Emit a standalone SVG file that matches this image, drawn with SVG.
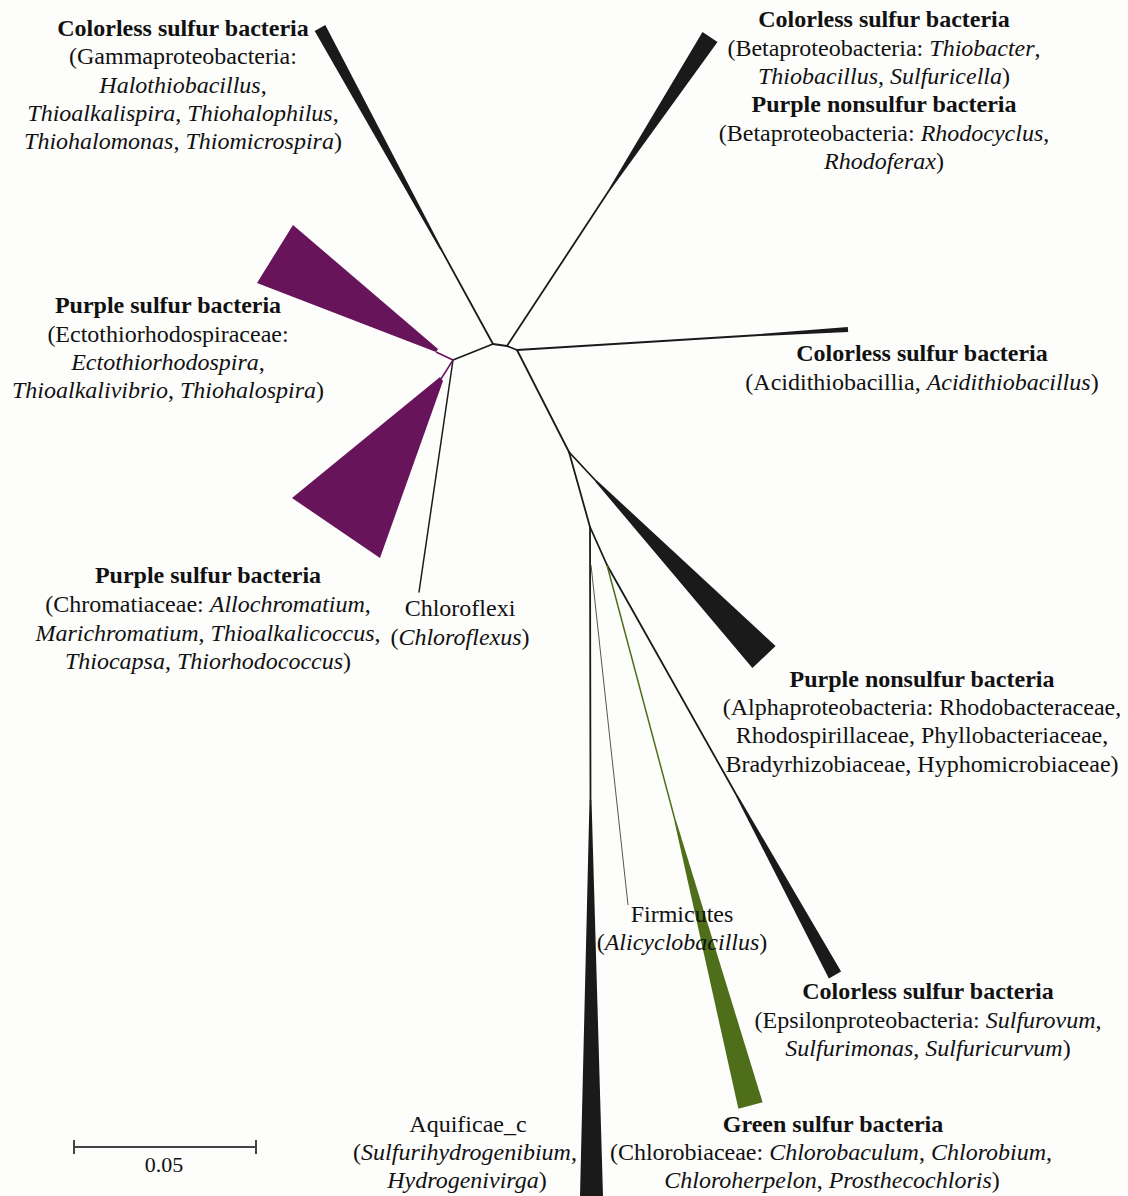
<svg xmlns="http://www.w3.org/2000/svg" width="1128" height="1196" viewBox="0 0 1128 1196">
<style>
.t{font-family:"Liberation Serif","Times New Roman",serif;font-size:24px;fill:#111;text-anchor:middle}
.b{font-weight:bold}
.i{font-style:italic}
.br{stroke:#1a1a1a;stroke-width:1.8;fill:none;stroke-linecap:round}
.thin{stroke:#555;stroke-width:1;fill:none}
.pl{stroke:#67145b;stroke-width:1.5;fill:none}
.gl{stroke:#4e6e1a;stroke-width:1.5;fill:none}
.wk{fill:#1a1a1a}
.wp{fill:#67145b}
.wg{fill:#4e6e1a}
</style>
<rect width="1128" height="1196" fill="#fdfdfc"/>
<g id="connectors">
<line class="br" x1="453" y1="360" x2="493" y2="344"/>
<line class="br" x1="493" y1="344" x2="507" y2="346"/>
<line class="br" x1="507" y1="346" x2="517" y2="350"/>
<line class="br" x1="517" y1="350" x2="569" y2="452"/>
<line class="br" x1="569" y1="452" x2="590" y2="527"/>
<line class="br" x1="590" y1="527" x2="607" y2="565"/>
<line class="br" x1="493" y1="344" x2="441" y2="249"/>
<line class="br" x1="507" y1="346" x2="610" y2="189"/>
<line class="br" x1="517" y1="350" x2="760" y2="335"/>
<line class="br" x1="569" y1="452" x2="596" y2="481"/>
<line class="br" x1="607" y1="565" x2="737" y2="796"/>
<line class="gl" x1="607" y1="565" x2="675" y2="820"/>
<line class="br" x1="590" y1="527" x2="590.5" y2="800"/>
<line class="thin" x1="591" y1="565" x2="628" y2="905"/>
<line class="br" x1="453" y1="360" x2="419" y2="592" style="stroke-width:1.5"/>
<line class="pl" x1="453" y1="360" x2="436" y2="352"/>
<line class="pl" x1="453" y1="360" x2="441" y2="379"/>
</g>
<g id="gamma">
<polygon class="wk" points="441.9,248.7 440.1,249.7 314.7,30.9 325.3,25.1"/>
<text class="t b" x="183" y="36">Colorless sulfur bacteria</text>
<text class="t" x="183" y="64">(Gammaproteobacteria:</text>
<text class="t" x="183" y="93"><tspan class="i">Halothiobacillus</tspan>,</text>
<text class="t" x="183" y="121"><tspan class="i">Thioalkalispira</tspan>, <tspan class="i">Thiohalophilus</tspan>,</text>
<text class="t" x="183" y="149"><tspan class="i">Thiohalomonas</tspan>, <tspan class="i">Thiomicrospira</tspan>)</text>
</g>
<g id="beta">
<polygon class="wk" points="610.8,189.5 609.2,188.5 702.5,32.1 717.5,41.9"/>
<text class="t b" x="884" y="27">Colorless sulfur bacteria</text>
<text class="t" x="884" y="56">(Betaproteobacteria: <tspan class="i">Thiobacter</tspan>,</text>
<text class="t" x="884" y="84"><tspan class="i">Thiobacillus</tspan>, <tspan class="i">Sulfuricella</tspan>)</text>
<text class="t b" x="884" y="112">Purple nonsulfur bacteria</text>
<text class="t" x="884" y="141">(Betaproteobacteria: <tspan class="i">Rhodocyclus</tspan>,</text>
<text class="t" x="884" y="169"><tspan class="i">Rhodoferax</tspan>)</text>
</g>
<g id="ectothiorhodospiraceae">
<polygon class="wp" points="293,225 257,283 436,352 438,349"/>
<text class="t b" x="168" y="313">Purple sulfur bacteria</text>
<text class="t" x="168" y="342">(Ectothiorhodospiraceae:</text>
<text class="t" x="168" y="370"><tspan class="i">Ectothiorhodospira</tspan>,</text>
<text class="t" x="168" y="398"><tspan class="i">Thioalkalivibrio</tspan>, <tspan class="i">Thiohalospira</tspan>)</text>
</g>
<g id="acidithiobacillia">
<polygon class="wk" points="760.06,336 759.94,334 847.8,327 848.2,332"/>
<text class="t b" x="922" y="361">Colorless sulfur bacteria</text>
<text class="t" x="922" y="390">(Acidithiobacillia, <tspan class="i">Acidithiobacillus</tspan>)</text>
</g>
<g id="chromatiaceae">
<polygon class="wp" points="292,498 380,558 443,381 440,377"/>
<text class="t b" x="208" y="583">Purple sulfur bacteria</text>
<text class="t" x="208" y="612">(Chromatiaceae: <tspan class="i">Allochromatium</tspan>,</text>
<text class="t" x="208" y="641"><tspan class="i">Marichromatium</tspan>, <tspan class="i">Thioalkalicoccus</tspan>,</text>
<text class="t" x="208" y="669"><tspan class="i">Thiocapsa</tspan>, <tspan class="i">Thiorhodococcus</tspan>)</text>
</g>
<g id="chloroflexi">
<text class="t" x="460" y="616">Chloroflexi</text>
<text class="t" x="460" y="645">(<tspan class="i">Chloroflexus</tspan>)</text>
</g>
<g id="alphaproteobacteria">
<polygon class="wk" points="596.7,480.3 595.3,481.7 752.4,668 775.6,646"/>
<text class="t b" x="922" y="687">Purple nonsulfur bacteria</text>
<text class="t" x="922" y="715">(Alphaproteobacteria: Rhodobacteraceae,</text>
<text class="t" x="922" y="743">Rhodospirillaceae, Phyllobacteriaceae,</text>
<text class="t" x="922" y="772">Bradyrhizobiaceae, Hyphomicrobiaceae)</text>
</g>
<g id="epsilonproteobacteria">
<polygon class="wk" points="737.9,795.5 736.1,796.5 828.9,978.4 841.1,971.6"/>
<text class="t b" x="928" y="999">Colorless sulfur bacteria</text>
<text class="t" x="928" y="1028">(Epsilonproteobacteria: <tspan class="i">Sulfurovum</tspan>,</text>
<text class="t" x="928" y="1056"><tspan class="i">Sulfurimonas</tspan>, <tspan class="i">Sulfuricurvum</tspan>)</text>
</g>
<g id="chlorobiaceae">
<polygon class="wg" points="675.8,819.8 674.2,820.2 738.4,1108.7 762.6,1102.3"/>
<text class="t b" x="833" y="1132">Green sulfur bacteria</text>
<text class="t" x="831" y="1160">(Chlorobiaceae: <tspan class="i">Chlorobaculum</tspan>, <tspan class="i">Chlorobium</tspan>,</text>
<text class="t" x="832" y="1188"><tspan class="i">Chloroherpelon</tspan>, <tspan class="i">Prosthecochloris</tspan>)</text>
</g>
<g id="aquificae">
<polygon class="wk" points="589.5,800 591.5,800 603,1196 580,1196"/>
<text class="t" x="468" y="1132">Aquificae_c</text>
<text class="t" x="465" y="1160">(<tspan class="i">Sulfurihydrogenibium</tspan>,</text>
<text class="t" x="467" y="1188"><tspan class="i">Hydrogenivirga</tspan>)</text>
</g>
<g id="firmicutes">
<text class="t" x="682" y="922">Firmicutes</text>
<text class="t" x="682" y="950">(<tspan class="i">Alicyclobacillus</tspan>)</text>
</g>
<g id="scalebar">
<line x1="74" y1="1147" x2="256" y2="1147" stroke="#444" stroke-width="2"/>
<line x1="74" y1="1140" x2="74" y2="1154" stroke="#444" stroke-width="2"/>
<line x1="256" y1="1140" x2="256" y2="1154" stroke="#444" stroke-width="2"/>
<text class="t" x="164" y="1172" style="font-size:22px">0.05</text>
</g>
</svg>
